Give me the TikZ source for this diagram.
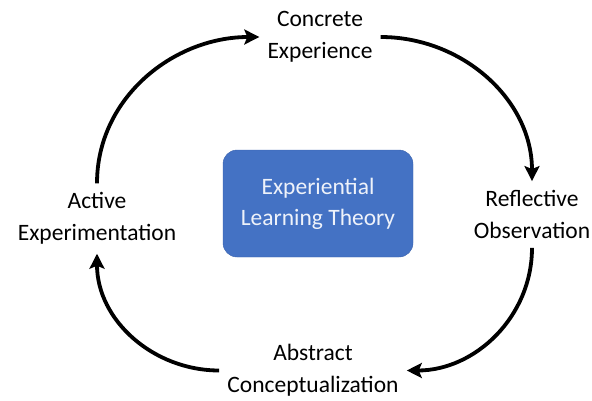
\documentclass[tikz,border=0pt]{standalone}
\usepackage{fontspec}
\setmainfont{Carlito}
\usepackage{xcolor}
\usetikzlibrary{arrows.meta}
\definecolor{theoryblue}{HTML}{4472C4}
\definecolor{theoryedge}{HTML}{3A62AC}
\definecolor{theorytext}{HTML}{EEF2FA}

\begin{document}
\begin{tikzpicture}[x=1pt, y=1pt]
    % Styles
    \tikzstyle{stage} = [align=center, inner xsep=8pt, inner ysep=9pt, font=\fontsize{23.5}{32}\selectfont]
    \tikzstyle{theory} = [rectangle, rounded corners=14pt, minimum width=190pt, minimum height=107pt, align=center, draw=theoryedge, fill=theoryblue, text=theorytext, font=\fontsize{23.5}{31}\selectfont]
    \tikzstyle{arrow} = [line width=3.8pt, -{Stealth[length=15pt, width=15pt, inset=3pt]}]

    \useasboundingbox (0,0) rectangle (592,400);

    % Nodes - using absolute positioning
    \node[theory] (elt) at (318,196.5) {Experiential\\Learning Theory};
    \node[stage] (concrete) at (320,363) {Concrete\\Experience};
    \node[stage] (reflective) at (532,185.5) {Reflective\\Observation};
    \node[stage] (abstract) at (313,29.5) {Abstract\\Conceptualization};
    \node[stage] (active) at (97,181.5) {Active\\Experimentation};

    % Arrows
    \draw[arrow] (concrete.east) to[out=0, in=90] (reflective.north);
    \draw[arrow] (reflective.south) to[out=-90, in=0] (abstract.east);
    \draw[arrow] (abstract.west) to[out=180, in=-90] (active.south);
    \draw[arrow] (active.north) to[out=90, in=180] (concrete.west);
\end{tikzpicture}
\end{document}
